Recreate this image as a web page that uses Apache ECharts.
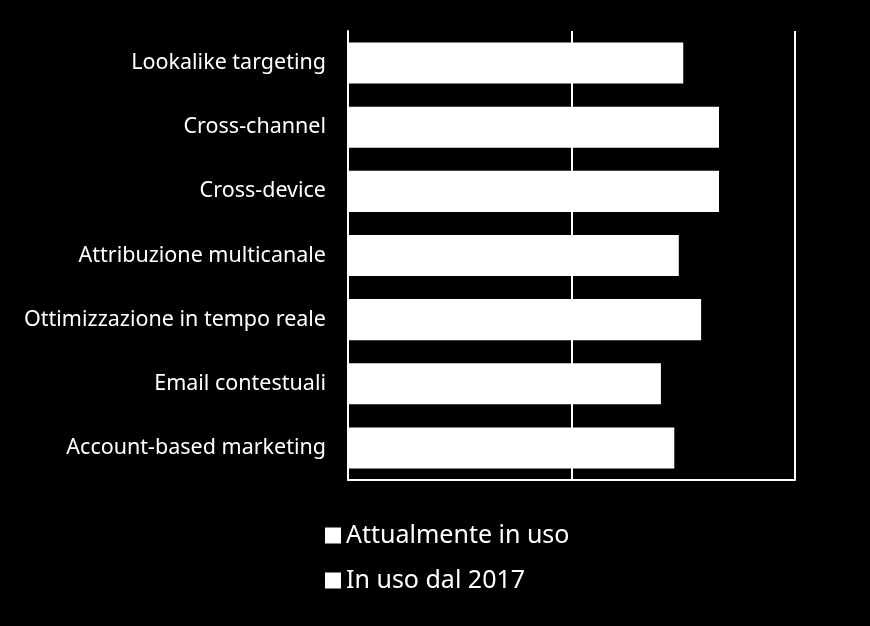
<!DOCTYPE html>
<html><head><meta charset="utf-8">
<script src="https://cdn.jsdelivr.net/npm/echarts@6/dist/echarts.min.js"></script>
<style>html,body{margin:0;padding:0;background:#000;}#c{width:870px;height:626px;}</style>
</head><body><div id="c"></div>
<script>
const categories = ["Lookalike targeting","Cross-channel","Cross-device","Attribuzione multicanale","Ottimizzazione in tempo reale","Email contestuali","Account-based marketing"];
const attualmente = [75, 83, 83, 74, 79, 70, 73];
const dal2017 = [];
const seriesNames = ["Attualmente in uso","In uso dal 2017"];
const chart = echarts.init(document.getElementById('c'));
const font = '"Noto Sans", sans-serif';
chart.setOption({
  backgroundColor: '#000',
  animation: false,
  grid: {left: 348, right: 75, top: 31, bottom: 146},
  legend: {
    orient: 'vertical', left: 320, top: 518, itemGap: 20,
    icon: 'rect', itemWidth: 16, itemHeight: 16,
    textStyle: {color: '#fff', fontSize: 25, fontFamily: font},
    data: seriesNames.map(n => ({name: n, itemStyle: {color: '#fff'}}))
  },
  xAxis: {
    type: 'value', min: 0, max: 100, interval: 50,
    axisLine: {show: true, lineStyle: {color: '#fff', width: 2}},
    axisTick: {show: false}, axisLabel: {show: false},
    splitLine: {show: true, lineStyle: {color: '#fff', width: 2}}
  },
  yAxis: {
    type: 'category', data: categories, inverse: true,
    axisLine: {show: true, onZero: false, lineStyle: {color: '#fff', width: 2}},
    axisTick: {show: false},
    axisLabel: {color: '#fff', fontSize: 21.5, fontFamily: font, margin: 22}
  },
  series: [
    {name: seriesNames[0], type: 'bar', stack: 't', data: attualmente, barCategoryGap: '36%', itemStyle: {color: '#fff'}},
    {name: seriesNames[1], type: 'bar', stack: 't', data: dal2017, itemStyle: {color: '#fff'}}
  ]
});
</script></body></html>
